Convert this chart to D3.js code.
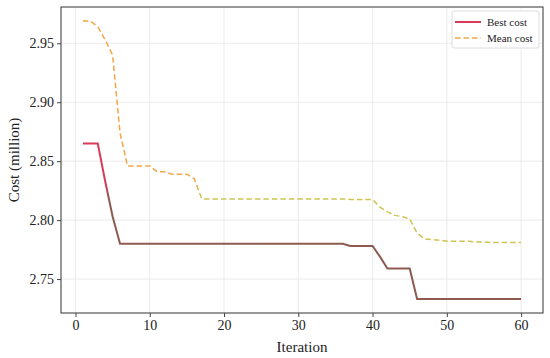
<!DOCTYPE html>
<html>
<head>
<meta charset="utf-8">
<script src="https://cdn.jsdelivr.net/npm/d3@7"></script>
<style>
  body { margin: 0; background: #fff; }
  svg text { font-family: "Times New Roman", "Liberation Serif", Tinos, serif; fill: #222; }
</style>
</head>
<body>
<div id="chart"></div>
<script>
var iterations = d3.range(1, 61);
var bestCost = [
  2.865, 2.865, 2.865, 2.833, 2.803, 2.780, 2.780, 2.780, 2.780, 2.780,
  2.780, 2.780, 2.780, 2.780, 2.780, 2.780, 2.780, 2.780, 2.780, 2.780,
  2.780, 2.780, 2.780, 2.780, 2.780, 2.780, 2.780, 2.780, 2.780, 2.780,
  2.780, 2.780, 2.780, 2.780, 2.780, 2.780, 2.778, 2.778, 2.778, 2.778,
  2.769, 2.759, 2.759, 2.759, 2.759, 2.733, 2.733, 2.733, 2.733, 2.733,
  2.733, 2.733, 2.733, 2.733, 2.733, 2.733, 2.733, 2.733, 2.733, 2.733
];
var meanCost = [
  2.969, 2.969, 2.964, 2.953, 2.940, 2.874, 2.846, 2.846, 2.846, 2.846,
  2.841, 2.841, 2.839, 2.839, 2.839, 2.835, 2.818, 2.818, 2.818, 2.818,
  2.818, 2.818, 2.818, 2.818, 2.818, 2.818, 2.818, 2.818, 2.818, 2.818,
  2.818, 2.818, 2.818, 2.818, 2.818, 2.818, 2.8175, 2.8175, 2.8175, 2.8175,
  2.811, 2.807, 2.804, 2.803, 2.801, 2.789, 2.784, 2.7835, 2.783, 2.782,
  2.782, 2.782, 2.782, 2.7815, 2.7815, 2.781, 2.781, 2.781, 2.781, 2.781
];
var xTicks = [0, 10, 20, 30, 40, 50, 60];
var yTicks = [2.75, 2.80, 2.85, 2.90, 2.95];

var W = 550, H = 358;
var m = { left: 61, right: 7, top: 7, bottom: 45 };
var FONT = '"Times New Roman", "Liberation Serif", Tinos, serif';

var svg = d3.select("#chart").append("svg")
  .attr("width", W).attr("height", H);

var x = d3.scaleLinear().domain([-1.95, 62.95]).range([m.left, W - m.right]);
var y = d3.scaleLinear().domain([2.7212, 2.9808]).range([H - m.bottom, m.top]);

// grid
svg.append("g").selectAll("line").data(xTicks).enter().append("line")
  .attr("x1", function(d){ return x(d); }).attr("x2", function(d){ return x(d); })
  .attr("y1", m.top).attr("y2", H - m.bottom)
  .attr("stroke", "#e6e6e6").attr("stroke-width", 0.8);
svg.append("g").selectAll("line").data(yTicks).enter().append("line")
  .attr("x1", m.left).attr("x2", W - m.right)
  .attr("y1", function(d){ return y(d); }).attr("y2", function(d){ return y(d); })
  .attr("stroke", "#e6e6e6").attr("stroke-width", 0.8);

// colour gradients (switch colour around the middle of the plot)
var defs = svg.append("defs");
function grad(id, top, bottom){
  var g = defs.append("linearGradient").attr("id", id)
    .attr("gradientUnits", "userSpaceOnUse")
    .attr("x1", 0).attr("x2", 0).attr("y1", y(2.83)).attr("y2", y(2.82));
  g.append("stop").attr("offset", 0).attr("stop-color", top);
  g.append("stop").attr("offset", 1).attr("stop-color", bottom);
}
grad("gBest", "#d93a5c", "#8e5a50");
grad("gMean", "#f2a64a", "#cfc352");

var line = function(vals){
  return d3.line()
    .x(function(d, i){ return x(iterations[i]); })
    .y(function(d){ return y(d); })(vals);
};

svg.append("path").attr("d", line(meanCost))
  .attr("fill", "none").attr("stroke", "url(#gMean)")
  .attr("stroke-width", 1.5).attr("stroke-dasharray", "5.5,3");
svg.append("path").attr("d", line(bestCost))
  .attr("fill", "none").attr("stroke", "url(#gBest)")
  .attr("stroke-width", 2);

// axes
var xAxis = svg.append("g").attr("transform", "translate(0," + (H - m.bottom) + ")")
  .call(d3.axisBottom(x).tickValues(xTicks).tickSize(4).tickPadding(3));
var yAxis = svg.append("g").attr("transform", "translate(" + m.left + ",0)")
  .call(d3.axisLeft(y).tickValues(yTicks).tickFormat(d3.format(".2f")).tickSize(4).tickPadding(3));
[xAxis, yAxis].forEach(function(a){
  a.attr("font-family", FONT);
  a.select(".domain").remove();
  a.selectAll("line").attr("stroke", "#444");
  a.selectAll("text").attr("font-family", FONT).style("font-family", FONT)
    .style("font-size", "14px").attr("fill", "#222");
});

svg.append("rect")
  .attr("x", m.left).attr("y", m.top)
  .attr("width", W - m.left - m.right).attr("height", H - m.top - m.bottom)
  .attr("fill", "none").attr("stroke", "#444").attr("stroke-width", 1.1);

svg.append("text").attr("x", (m.left + W - m.right) / 2).attr("y", 352)
  .attr("text-anchor", "middle").style("font-size", "15px").text("Iteration");
svg.append("text")
  .attr("transform", "translate(19," + ((m.top + H - m.bottom) / 2) + ") rotate(-90)")
  .attr("text-anchor", "middle").style("font-size", "15px").text("Cost (million)");

// legend
var lg = svg.append("g");
lg.append("rect").attr("x", 452).attr("y", 11).attr("width", 87).attr("height", 37)
  .attr("rx", 2).attr("fill", "#fff").attr("fill-opacity", 0.85)
  .attr("stroke", "#dddddd");
var items = [
  { name: "Best cost", color: "#d93a5c", dash: null, w: 2 },
  { name: "Mean cost", color: "#f2a64a", dash: "5.5,3", w: 1.5 }
];
items.forEach(function(it, i){
  var yy = 22 + i * 16;
  lg.append("line").attr("x1", 455).attr("x2", 481).attr("y1", yy).attr("y2", yy)
    .attr("stroke", it.color).attr("stroke-width", it.w)
    .attr("stroke-dasharray", it.dash);
  lg.append("text").attr("x", 487).attr("y", yy + 4)
    .style("font-size", "11px").text(it.name);
});
</script>
</body>
</html>
